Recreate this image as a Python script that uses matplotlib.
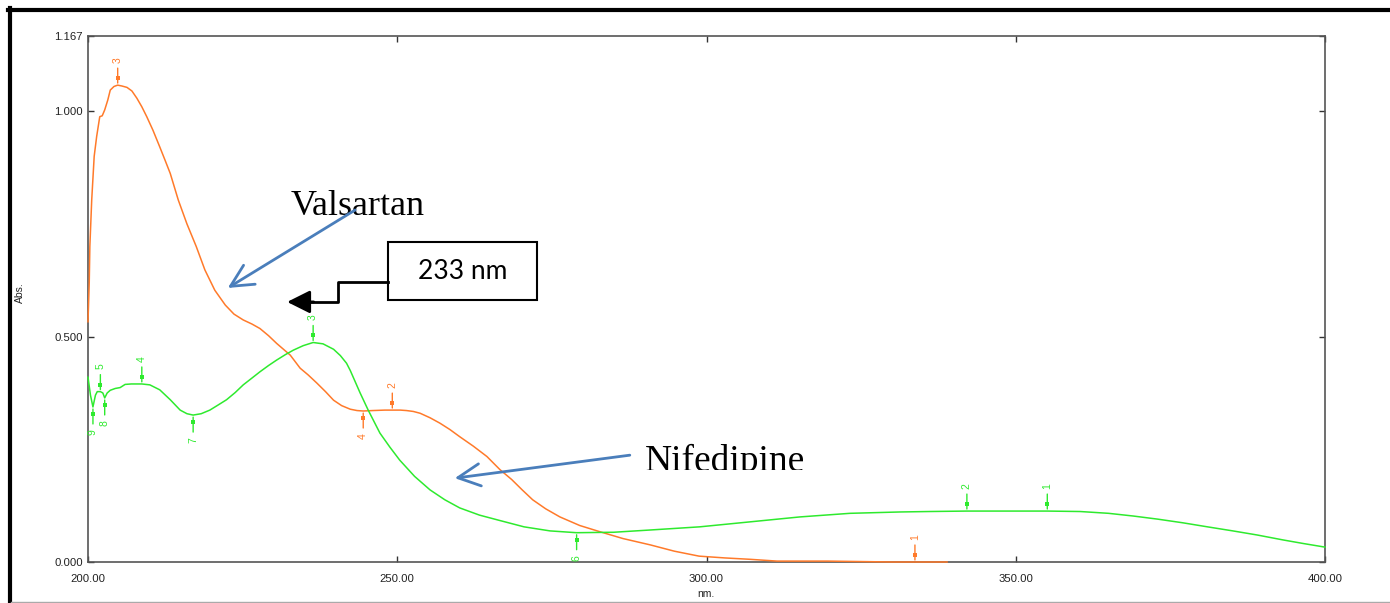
import matplotlib
matplotlib.use('Agg')
import matplotlib.pyplot as plt
import matplotlib.transforms as mtransforms
from matplotlib.lines import Line2D
from matplotlib.patches import Rectangle

# ---------------- data ----------------
valsartan_nm = [200.0, 200.2, 200.3, 200.6, 201.0, 201.4, 201.9, 202.3, 202.7, 203.2,
                203.6, 204.2, 204.8, 205.5, 206.3, 207.1, 207.9, 208.7, 209.5, 210.5,
                211.6, 212.5, 213.3, 214.6, 216.0, 217.5, 218.9, 220.5, 222.2, 223.6,
                225.1, 226.5, 227.8, 229.2, 230.5, 232.7, 234.3, 235.6, 237.0, 238.4,
                239.7, 241.0, 242.4, 243.5, 244.5, 246.0, 248.0, 249.2, 250.5, 251.5,
                252.6, 253.7, 255.3, 256.9, 258.5, 260.1, 262.3, 264.5, 266.6, 268.5,
                270.2, 271.9, 274.0, 276.3, 279.5, 282.8, 286.5, 290.9, 294.8, 298.8,
                303.0, 307.0, 311.4, 319.6, 330.0, 338.9]
valsartan_abs = [0.533, 0.620, 0.700, 0.803, 0.900, 0.944, 0.988, 0.990, 1.003, 1.025,
                 1.047, 1.055, 1.058, 1.056, 1.053, 1.045, 1.029, 1.010, 0.988, 0.958,
                 0.921, 0.890, 0.862, 0.803, 0.750, 0.700, 0.648, 0.603, 0.570, 0.550,
                 0.537, 0.528, 0.518, 0.502, 0.485, 0.459, 0.430, 0.415, 0.397, 0.378,
                 0.359, 0.347, 0.339, 0.336, 0.335, 0.336, 0.337, 0.337, 0.337, 0.336,
                 0.334, 0.330, 0.320, 0.308, 0.294, 0.278, 0.257, 0.234, 0.205, 0.183,
                 0.160, 0.138, 0.118, 0.100, 0.081, 0.067, 0.052, 0.038, 0.024, 0.013,
                 0.009, 0.006, 0.002, 0.002, 0.000, 0.000]

nifedipine_nm = [200.0, 200.4, 200.8, 201.2, 201.5, 202.0, 202.4, 202.7, 203.1, 203.6,
                 204.4, 205.2, 206.0, 207.0, 208.7, 210.0, 211.6, 213.3, 214.9, 216.0,
                 217.0, 218.3, 219.7, 221.0, 222.4, 223.8, 225.1, 226.5, 227.8, 229.2,
                 230.5, 231.9, 233.2, 234.8, 236.4, 238.0, 239.7, 240.8, 241.8, 242.4,
                 243.2, 244.0, 245.3, 247.2, 248.8, 250.4, 252.8, 255.3, 257.7, 260.1,
                 263.3, 266.6, 270.5, 274.7, 279.0, 285.0, 290.9, 298.9, 307.0, 315.1,
                 323.2, 331.3, 336.0, 342.1, 348.0, 355.1, 360.4, 365.0, 369.0, 373.0,
                 377.0, 381.0, 385.1, 389.0, 393.2, 396.5, 400.0]
nifedipine_abs = [0.410, 0.370, 0.344, 0.370, 0.378, 0.378, 0.375, 0.364, 0.375, 0.381,
                  0.385, 0.387, 0.394, 0.395, 0.395, 0.393, 0.382, 0.360, 0.337, 0.329,
                  0.326, 0.329, 0.337, 0.348, 0.360, 0.376, 0.393, 0.408, 0.422, 0.436,
                  0.448, 0.460, 0.470, 0.480, 0.487, 0.484, 0.472, 0.458, 0.441, 0.425,
                  0.400, 0.375, 0.337, 0.286, 0.255, 0.226, 0.190, 0.160, 0.138, 0.120,
                  0.104, 0.092, 0.078, 0.069, 0.065, 0.066, 0.071, 0.078, 0.089, 0.100,
                  0.108, 0.111, 0.112, 0.113, 0.113, 0.113, 0.112, 0.108, 0.102, 0.095,
                  0.087, 0.078, 0.069, 0.060, 0.049, 0.041, 0.033]

# peak / valley picks (label, wavelength, absorbance)
val_peak_labels = ['3', '2', '1']
val_peak_nm = [204.8, 249.2, 333.7]
val_peak_abs = [1.058, 0.337, 0.000]
val_valley_labels = ['4']
val_valley_nm = [244.5]
val_valley_abs = [0.335]

nif_peak_labels = ['1', '2', '3', '4', '5']
nif_peak_nm = [355.1, 342.1, 236.4, 208.7, 202.0]
nif_peak_abs = [0.113, 0.113, 0.487, 0.395, 0.378]
nif_valley_labels = ['6', '7', '8', '9']
nif_valley_nm = [279.0, 217.0, 202.7, 200.8]
nif_valley_abs = [0.065, 0.326, 0.364, 0.344]

x_ticks = [200, 250, 300, 350, 400]
x_tick_labels = ['200.00', '250.00', '300.00', '350.00', '400.00']
y_ticks = [0.0, 0.5, 1.0, 1.167]
y_tick_labels = ['0.000', '0.500', '1.000', '1.167']

ORANGE = '#FF7A2A'
GREEN = '#2EEA2E'
BLUE = '#4A7EBB'

# ---------------- figure ----------------
W, H = 1390, 603
fig = plt.figure(figsize=(W / 100, H / 100), dpi=100)
ax = fig.add_axes([88 / W, 41 / H, 1237 / W, 526 / H])

ax.plot(valsartan_nm, valsartan_abs, color=ORANGE, lw=1.1, clip_on=False, zorder=4)
ax.plot(nifedipine_nm, nifedipine_abs, color=GREEN, lw=1.1, clip_on=False, zorder=4)

ax.set_xlim(200, 400)
ax.set_ylim(0, 1.167)
ax.set_xticks(x_ticks)
ax.set_xticklabels(x_tick_labels)
ax.set_yticks(y_ticks)
ax.set_yticklabels(y_tick_labels)
for sp in ax.spines.values():
    sp.set_color('#555555')
    sp.set_linewidth(1.2)
ax.tick_params(axis='both', direction='in', length=4, width=1.0, color='#333333',
               top=True, right=True, labelsize=8.2, labelcolor='#222222')
ax.tick_params(axis='x', pad=8.5)
ax.tick_params(axis='y', pad=3.5)
for lbl in ax.get_xticklabels() + ax.get_yticklabels():
    lbl.set_family('Liberation Sans')

fig.text(20 / W, 1 - 293 / H, 'Abs.', rotation=90, ha='center', va='center',
         fontsize=7.5, color='#222222', family='Liberation Sans')
fig.text(706 / W, 1 - 594 / H, 'nm.', ha='center', va='center',
         fontsize=7.5, color='#222222', family='Liberation Sans')


def pick(x, y, lab, color, up):
    s = 1 if up else -1
    ax.annotate('', xy=(x, y), xytext=(0, s * 17), textcoords='offset pixels',
                arrowprops=dict(arrowstyle='-', color=color, lw=1.0,
                                shrinkA=0, shrinkB=1.5), zorder=5,
                annotation_clip=False)
    off = mtransforms.ScaledTranslation(0, s * 7 / 100, fig.dpi_scale_trans)
    ax.plot([x], [y], marker='s', ms=2.8, color=color, mew=0,
            transform=ax.transData + off, clip_on=False, zorder=5)
    ax.annotate(lab, xy=(x, y), xytext=(0, s * 25), textcoords='offset pixels',
                rotation=90, ha='center', va='center', color=color,
                fontsize=7.5, family='Liberation Sans', annotation_clip=False)


for l, x, y in zip(val_peak_labels, val_peak_nm, val_peak_abs):
    pick(x, y, l, ORANGE, True)
for l, x, y in zip(val_valley_labels, val_valley_nm, val_valley_abs):
    pick(x, y, l, ORANGE, False)
for l, x, y in zip(nif_peak_labels, nif_peak_nm, nif_peak_abs):
    pick(x, y, l, GREEN, True)
for l, x, y in zip(nif_valley_labels, nif_valley_nm, nif_valley_abs):
    pick(x, y, l, GREEN, False)

# ---------------- annotations ----------------
ax.text(232.7, 0.770, 'Valsartan', family='Liberation Serif', fontsize=26,
        va='baseline', ha='left', color='black', zorder=6)
ax.annotate('', xy=(222.6, 0.608), xytext=(243.2, 0.781),
            arrowprops=dict(arrowstyle='->,head_length=0.8,head_width=0.4',
                            color=BLUE, lw=2.0, mutation_scale=20,
                            shrinkA=0, shrinkB=0), zorder=6)

t = ax.text(290.1, 0.202, 'Nifedipine', family='Liberation Serif', fontsize=27,
            va='baseline', ha='left', color='black', zorder=6)
t.set_clip_on(True)
t.set_clip_box(mtransforms.Bbox([[0, H - 470], [W, H]]))
ax.annotate('', xy=(259.3, 0.186), xytext=(287.6, 0.237),
            arrowprops=dict(arrowstyle='->,head_length=0.8,head_width=0.4',
                            color=BLUE, lw=2.0, mutation_scale=20,
                            shrinkA=0, shrinkB=0), zorder=6)

ax.add_patch(Rectangle((248.5, 0.581), 24.1, 0.129, facecolor='white',
                       edgecolor='black', lw=1.5, zorder=6, clip_on=False))
ax.text(260.5, 0.645, '233 nm', family='Lato', fontsize=19, ha='center',
        va='center', color='black', zorder=7)
ax.add_line(Line2D([248.5, 240.4, 240.4, 236.0], [0.621, 0.621, 0.577, 0.577],
                   color='black', lw=2.0, zorder=6, clip_on=False))
ax.annotate('', xy=(232.2, 0.577), xytext=(236.5, 0.577),
            arrowprops=dict(arrowstyle='-|>,head_length=0.7,head_width=0.35',
                            color='black', lw=2.0, mutation_scale=20,
                            shrinkA=0, shrinkB=0), zorder=6)

# ---------------- outer frame ----------------
fig.add_artist(Line2D([8 / W, 1.0], [1 - 10.3 / H, 1 - 10.3 / H],
                      transform=fig.transFigure, color='black', lw=3.0))
fig.add_artist(Line2D([9.6 / W, 9.6 / W], [0.0, 1 - 8.3 / H],
                      transform=fig.transFigure, color='black', lw=3.0))
fig.add_artist(Line2D([11 / W, 1.0], [1.5 / H, 1.5 / H],
                      transform=fig.transFigure, color='#AAAAAA', lw=1.0))

fig.savefig('out.png', dpi=100)
